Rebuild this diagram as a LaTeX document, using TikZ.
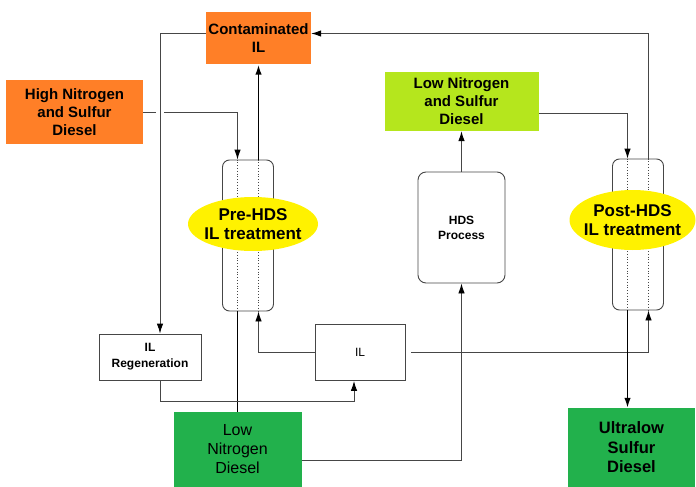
\documentclass[tikz,border=0pt]{standalone}
\usepackage{fontspec}
\setmainfont{Liberation Sans}
\usetikzlibrary{shapes.geometric,arrows.meta}

\definecolor{ilorange}{RGB}{255,127,39}
\definecolor{lowgreen}{RGB}{181,230,29}
\definecolor{ulgreen}{RGB}{34,177,76}
\definecolor{ilyellow}{RGB}{255,242,0}
\definecolor{linegray}{RGB}{70,70,70}

\tikzset{
  feed/.style={rectangle, inner sep=0pt, align=center, font=\bfseries\fontsize{15}{18}\selectfont},
  unit/.style={rectangle, draw=linegray, line width=0.9pt, inner sep=0pt, align=center},
  column/.style={rectangle, rounded corners=7pt, draw=linegray, line width=0.9pt, minimum width=51pt, minimum height=151pt},
  badge/.style={inner sep=0pt, align=center, font=\bfseries\fontsize{17}{19}\selectfont},
  pipe/.style={draw=linegray, line width=0.9pt},
  flow/.style={draw=black, line width=1.6pt},
}

\begin{document}
\begin{tikzpicture}[x=1pt, y=-1pt, >={Latex[length=10pt,width=6.5pt,color=black]}]
\useasboundingbox (0,0) rectangle (696,487);

% streams
\node[feed, fill=ilorange, minimum width=105pt, minimum height=52pt] (cil) at (258.5,38.5) {Contaminated\\IL};
\node[feed, fill=ilorange, minimum width=137pt, minimum height=64pt] (hnsd) at (74.5,112) {High Nitrogen\\and Sulfur\\Diesel};
\node[feed, fill=lowgreen, minimum width=154pt, minimum height=59pt] (lnsd) at (461.5,101.5) {Low Nitrogen\\and Sulfur\\Diesel};
\node[feed, fill=ulgreen, font=\fontsize{16}{19}\selectfont, minimum width=128pt, minimum height=75pt] (lnd) at (237.5,449.5) {Low\\Nitrogen\\Diesel};
\node[feed, fill=ulgreen, font=\bfseries\fontsize{16.5}{19.5}\selectfont, minimum width=127pt, minimum height=79pt] (ulsd) at (631.5,447.5) {Ultralow\\Sulfur\\Diesel};

% units
\node[unit, minimum width=102pt, minimum height=46pt, font=\bfseries\fontsize{12}{16}\selectfont] (ilreg) at (150,357) {IL\\Regeneration};
\node[unit, minimum width=90pt, minimum height=56pt, font=\fontsize{12}{14}\selectfont] (il) at (360,352.5) {IL};
\node[unit, rounded corners=8pt, minimum width=87pt, minimum height=111pt, font=\bfseries\fontsize{12}{15}\selectfont] (hds) at (461.5,227.5) {HDS\\Process};

% extraction columns
\node[column] (pre) at (248,235.5) {};
\node[column] (post) at (638,234.5) {};
\foreach \c in {pre,post}
  \foreach \dx in {-10.5,10.5}
    \draw[linegray, dotted, line width=0.8pt] ([xshift=\dx pt]\c.north) -- ([xshift=\dx pt]\c.south);

\coordinate (prec) at (253,224);
\coordinate (postc) at (632.5,220);
\fill[ilyellow] (prec) ellipse [x radius=65pt, y radius=27pt];
\fill[ilyellow] (postc) ellipse [x radius=63pt, y radius=30pt];
\node[badge] (prebadge) at (prec) {Pre-HDS\\IL treatment};
\node[badge] (postbadge) at (postc) {Post-HDS\\IL treatment};

% connectors
\coordinate (regin) at ([xshift=10pt]ilreg.north);
\coordinate (hop) at (regin |- hnsd.east);
\draw[pipe] (hnsd.east) -- ([xshift=-4pt]hop);
\draw[pipe,->] ([xshift=4pt]hop) -| ([xshift=-10.5pt]pre.north);
\draw[pipe,->] ([yshift=5pt]cil.west) -| (regin);
\draw[pipe,->] ([xshift=10.5pt]post.north) |- ([yshift=5pt]cil.east);
\draw[flow,->] ([xshift=10.5pt]pre.north) -- (cil.south);
\draw[flow] ([xshift=-10.5pt]pre.south) -- (lnd.north);
\draw[pipe,->] (il.west) -| ([xshift=10.5pt]pre.south);
\draw[pipe,->] ([xshift=10pt]ilreg.south) -- ++(0,21) -| ([xshift=-6pt]il.south);
\draw[pipe,->] ([yshift=-11pt]lnd.east) -| (hds.south);
\draw[pipe,->] ([xshift=6pt]il.east) -| ([xshift=10.5pt]post.south);
\draw[pipe,->] (hds.north) -- (lnsd.south);
\draw[pipe,->] ([yshift=-12pt]lnsd.east) -| ([xshift=-10.5pt]post.north);
\draw[flow,->] ([xshift=-10.5pt]post.south) -- ([xshift=-10.5pt]post.south |- ulsd.north);
\end{tikzpicture}
\end{document}
